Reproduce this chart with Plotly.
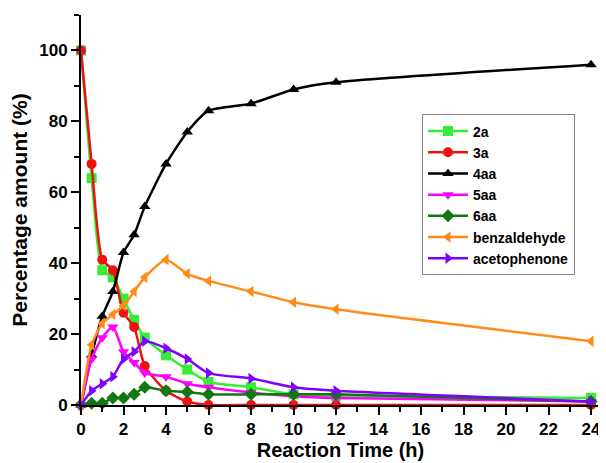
import plotly.graph_objects as go

time_h = [0, 0.5, 1, 1.5, 2, 2.5, 3, 4, 5, 6, 8, 10, 12, 24]
s_2a = [100, 64, 38, 36, 30, 24, 19, 14, 10, 6.5, 5, 3, 2.5, 2]
s_3a = [100, 68, 41, 38, 26, 22, 11, 4, 1, 0, 0, 0, 0, 0]
s_4aa = [0, 14, 25, 32, 43, 48, 56, 68, 77, 83, 85, 89, 91, 96]
s_5aa = [0, 13, 19, 22, 15, 12, 9, 8, 6, 5, 3.5, 2.5, 2, 1]
s_6aa = [0, 0.5, 0.5, 2, 2, 3, 5, 4, 3.7, 3, 3, 3, 3, 1]
s_benz = [0, 17, 23, 25.5, 28, 32, 36, 41, 37, 35, 32, 29, 27, 18]
s_aceto = [0, 4, 6, 8, 13, 15, 18, 16, 13, 9, 7.5, 5, 4, 1]

series = [
    ("2a", s_2a, "#33ee33", "square"),
    ("3a", s_3a, "#ee1111", "circle"),
    ("4aa", s_4aa, "#000000", "triangle-up"),
    ("5aa", s_5aa, "#ff00ff", "triangle-down"),
    ("6aa", s_6aa, "#117711", "diamond"),
    ("benzaldehyde", s_benz, "#ff8c1a", "triangle-left"),
    ("acetophenone", s_aceto, "#7f00ff", "triangle-right"),
]

fig = go.Figure()
for name, vals, col, sym in series:
    fig.add_trace(go.Scatter(
        x=time_h, y=vals, name=name, mode="lines+markers",
        line=dict(color=col, width=2.5, shape="spline", smoothing=0.6),
        marker=dict(color=col, symbol=sym, size=10),
        cliponaxis=False,
    ))

font_family = "Liberation Sans, Arial, sans-serif"
fig.update_layout(
    width=598, height=455,
    margin=dict(l=73, r=6, t=7, b=58, autoexpand=False),
    paper_bgcolor="white", plot_bgcolor="white",
    font=dict(family=font_family, color="black"),
    showlegend=True,
    legend=dict(
        x=0.657, y=0.745, xanchor="left", yanchor="top",
        bordercolor="#888888", borderwidth=1, bgcolor="white",
        font=dict(size=14, family=font_family, weight="bold"),
        tracegroupgap=0, itemwidth=40,
    ),
    xaxis=dict(
        range=[0, 24.42], tickvals=list(range(0, 25, 2)),
        automargin=False,
        showgrid=False, zeroline=False,
        showline=True, linecolor="black", linewidth=2,
        ticks="outside", ticklen=8, tickwidth=2, tickcolor="black",
        minor=dict(dtick=1, ticks="outside", ticklen=5, tickwidth=1.5, tickcolor="black"),
        tickfont=dict(size=17, family=font_family, weight="bold"),
        title=dict(text="Reaction Time (h)", font=dict(size=20, family=font_family, weight="bold"), standoff=2),
    ),
    yaxis=dict(
        range=[0, 110], tickvals=[0, 20, 40, 60, 80, 100],
        automargin=False,
        showgrid=False, zeroline=False,
        showline=True, linecolor="black", linewidth=2,
        ticks="outside", ticklen=8, tickwidth=2, tickcolor="black",
        minor=dict(dtick=10, ticks="outside", ticklen=5, tickwidth=1.5, tickcolor="black"),
        tickfont=dict(size=17, family=font_family, weight="bold"),
        title=dict(text="Percentage amount (%)", font=dict(size=21, family=font_family, weight="bold"), standoff=6),
    ),
)

fig.write_html("out.html")
